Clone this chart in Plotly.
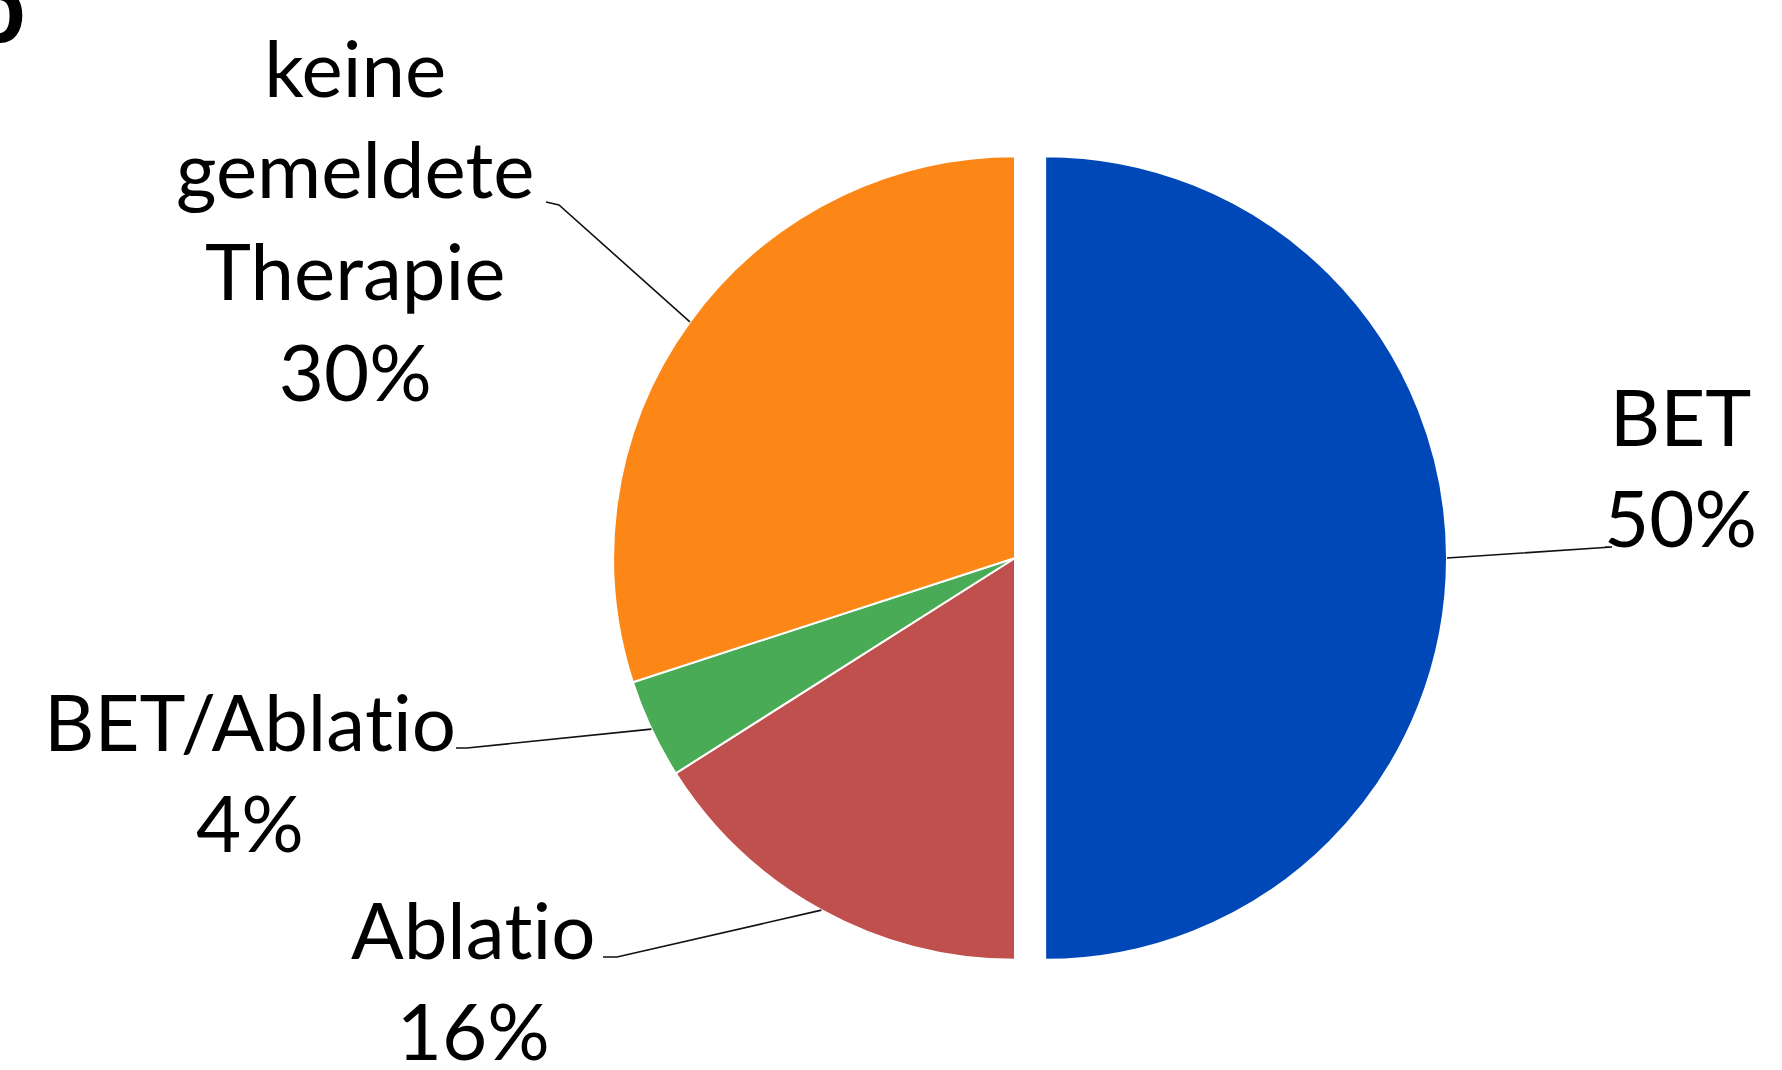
import math
import plotly.graph_objects as go

# ---- data ----
categories = ["BET", "Ablatio", "BET/Ablatio", "keine gemeldete Therapie"]
label_lines = ["BET", "Ablatio", "BET/Ablatio", "keine<br>gemeldete<br>Therapie"]
values = [50, 16, 4, 30]
colors = ["#0048B8", "#C0504D", "#49AB55", "#FD8716"]
pulls = [0.075, 0, 0, 0]

W, H = 1782, 1070
FONT = "Lato, Carlito, Calibri, sans-serif"
NOLIG = "font-variant-ligatures:none;font-feature-settings:'liga' 0,'clig' 0"

# pie geometry (pixels)
cx, cy = 1015, 558
half = 432
r = half / (1 + max(pulls))

def px2paper(x, y):
    return x / W, 1 - y / H

x0, y1 = px2paper(cx - half, cy - half)
x1, y0 = px2paper(cx + half, cy + half)

fig = go.Figure(go.Pie(
    labels=categories,
    values=values,
    marker=dict(colors=colors, line=dict(color="#FFFFFF", width=2)),
    pull=pulls,
    sort=False,
    direction="clockwise",
    rotation=0,
    textinfo="none",
    hoverinfo="label+percent",
    domain=dict(x=[x0, x1], y=[y0, y1]),
    showlegend=False,
))

# label text centres and elbow points (pixels) – layout, not data
label_pos = [(1680, 466), (473, 979), (250, 771), (355, 219)]
elbows = [[(1612, 547), (1605, 547)],
          [(617, 957), (603, 957)],
          [(467, 748), (456, 748)],
          [(559, 205), (546, 202)]]


def no_ligature(s):
    # keep the word as plain text; only split "ti" into separate runs so the
    # font's ti-ligature is not used
    return s.replace("ti", f"<span style=\"{NOLIG}\">t</span>i")


total = sum(values)
cum = 0
annotations = []
shapes = []
for i, v in enumerate(values):
    mid = (cum + v / 2) / total
    cum += v
    th = 2 * math.pi * mid
    rr = r * (1 + pulls[i])
    ax = cx + rr * math.sin(th)
    ay = cy - rr * math.cos(th)
    pts = [(ax, ay)] + elbows[i]
    path = ""
    for k, (px, py) in enumerate(pts):
        xp, yp = px2paper(px, py)
        path += ("M" if k == 0 else " L") + f" {xp:.5f},{yp:.5f}"
    shapes.append(dict(type="path", xref="paper", yref="paper", path=path,
                       line=dict(color="#111111", width=1.6)))
    lx, ly = px2paper(*label_pos[i])
    annotations.append(dict(
        x=lx, y=ly, xref="paper", yref="paper",
        text=f"{no_ligature(label_lines[i])}<br>{round(100 * v / total)}%",
        showarrow=False, xanchor="center", yanchor="middle", align="center",
        font=dict(family=FONT, size=78, color="#000000"),
    ))

# cut-off panel letter in the top-left corner
annotations.append(dict(
    x=28 / W, y=1 - 65 / H, xref="paper", yref="paper",
    text="<b>b</b>", showarrow=False, xanchor="right", yanchor="bottom",
    font=dict(family=FONT, size=100, color="#000000"),
))

fig.update_layout(
    width=W, height=H,
    margin=dict(l=0, r=0, t=0, b=0),
    paper_bgcolor="#FFFFFF", plot_bgcolor="#FFFFFF",
    annotations=annotations,
    shapes=shapes,
)

fig.write_html("out.html", config={"displayModeBar": False},
               post_script="document.body.style.margin='0';")
